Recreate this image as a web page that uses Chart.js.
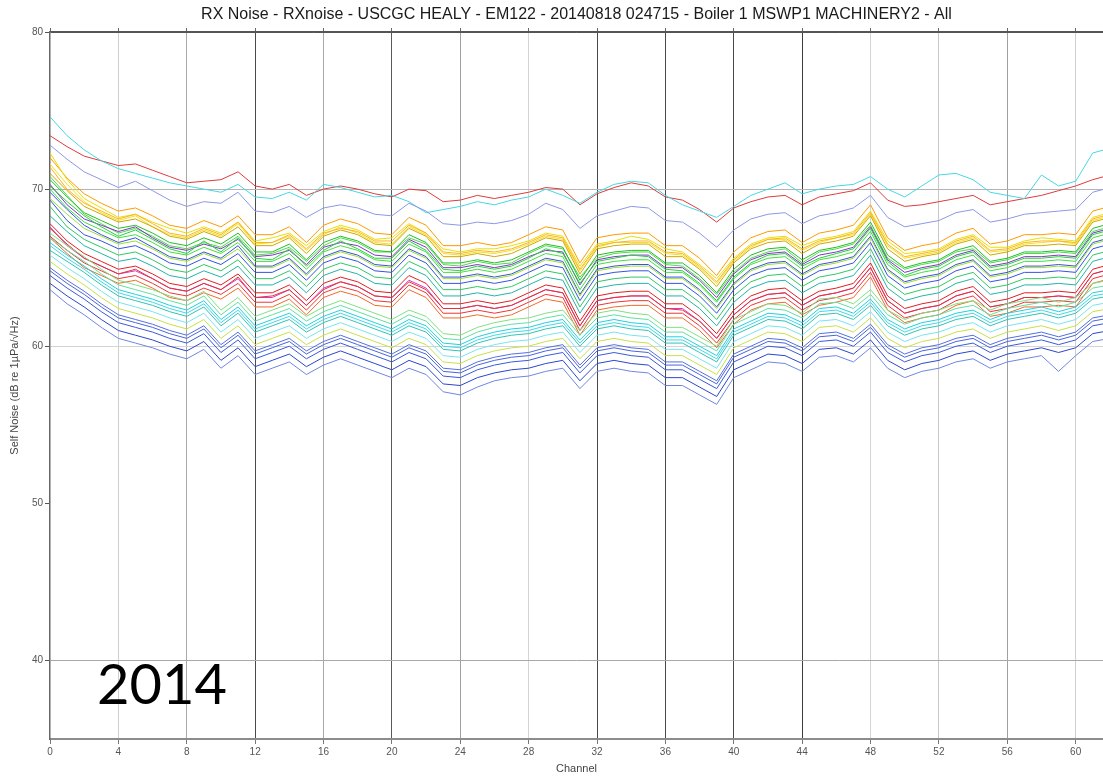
<!DOCTYPE html>
<html>
<head>
<meta charset="utf-8">
<script src="https://cdn.jsdelivr.net/npm/chart.js@4/dist/chart.umd.min.js"></script>
<style>
  html, body { margin: 0; padding: 0; background: #fff; }
  #wrap { position: relative; width: 1103px; height: 778px; }
  #yearLabel {
    position: absolute; left: 97px; top: 655px;
    font-family: Lato, "Open Sans", sans-serif; font-size: 56px; line-height: 1;
    color: #000;
  }
</style>
</head>
<body>
<div id="wrap">
  <canvas id="noiseChart"></canvas>
  <div id="yearLabel">2014</div>
</div>
<script>
// channels and axis ticks
const channels = [0,1,2,3,4,5,6,7,8,9,10,11,12,13,14,15,16,17,18,19,20,21,22,23,24,25,26,27,28,29,30,31,32,33,34,35,36,37,38,39,40,41,42,43,44,45,46,47,48,49,50,51,52,53,54,55,56,57,58,59,60,61,62];
const xTicks = [0,4,8,12,16,20,24,28,32,36,40,44,48,52,56,60];
const yTicks = [40,50,60,70,80];

// self noise per channel (dB re 1uPa/sqrt(Hz)), one array per ping trace
const redTop   = [73.4,72.7,72.1,71.8,71.5,71.6,71.2,70.8,70.4,70.5,70.6,71.1,70.2,70.0,70.3,69.6,70.0,70.2,70.0,69.7,69.5,70.0,69.9,69.2,69.3,69.6,69.4,69.6,69.8,70.1,70.0,69.0,69.7,70.1,70.4,70.2,69.5,69.3,68.7,67.9,68.8,69.2,69.5,69.6,69.0,69.5,69.7,69.9,70.4,69.3,68.9,69.0,69.2,69.4,69.6,69.0,69.2,69.4,69.6,69.9,70.2,70.6,70.9];
const cyanTop  = [74.6,73.4,72.5,71.8,71.3,71.0,70.7,70.4,70.2,70.0,69.8,70.3,69.5,69.4,69.8,69.3,70.3,70.1,69.8,69.5,69.6,69.2,68.5,68.7,68.9,69.2,69.0,69.3,69.5,70.0,69.6,69.1,69.8,70.3,70.5,70.4,69.6,69.0,68.6,68.2,68.9,69.6,70.0,70.4,69.7,70.0,70.2,70.3,70.8,70.0,69.5,70.2,70.9,71.0,70.6,69.8,69.6,69.4,70.9,70.2,70.5,72.3,72.6];
const lavTop   = [72.8,71.9,71.1,70.6,70.1,70.5,69.9,69.3,68.9,69.2,69.1,69.8,68.6,68.5,68.9,68.2,68.8,69.0,68.8,68.4,68.3,69.1,68.6,67.8,67.7,67.9,67.8,68.0,68.4,69.1,68.7,67.5,68.3,68.6,68.9,68.8,68.0,67.9,67.2,66.3,67.4,68.1,68.4,68.5,67.8,68.3,68.5,68.8,69.6,68.2,67.6,67.8,68.0,68.5,68.7,67.9,68.1,68.4,68.5,68.6,68.7,69.8,70.1];
const orange1  = [72.0,70.7,69.7,69.1,68.6,68.8,68.3,67.7,67.5,68.0,67.6,68.3,67.1,67.1,67.6,66.6,67.7,68.1,67.8,67.2,67.1,68.2,67.7,66.4,66.4,66.6,66.4,66.6,67.1,67.6,67.4,65.3,66.9,67.1,67.2,67.2,66.4,66.4,65.6,64.5,66.0,66.9,67.3,67.4,66.6,67.2,67.4,67.7,69.0,66.9,66.1,66.4,66.6,67.2,67.5,66.5,66.7,67.1,67.1,67.2,67.1,68.6,68.9];
const yellow1  = [72.3,70.6,69.4,68.8,68.2,68.4,67.9,67.5,67.2,67.6,67.2,67.9,66.7,66.9,67.2,66.4,67.3,67.7,67.4,66.8,66.9,67.8,67.2,66.2,66.0,66.2,66.2,66.4,66.7,67.2,67.0,65.1,66.5,66.7,67.0,66.8,66.2,66.0,65.2,64.3,65.6,66.5,66.9,67.0,66.4,66.8,67.0,67.3,68.6,66.7,65.9,66.0,66.2,66.8,67.1,66.3,66.3,66.7,66.9,66.8,66.7,68.2,68.5];
const yellow2  = [71.6,70.3,69.2,68.5,68.0,68.3,67.6,67.1,66.9,67.4,67.0,67.8,66.5,66.6,67.0,66.1,67.1,67.6,67.2,66.6,66.5,67.6,67.1,65.9,65.8,66.0,65.9,66.1,66.5,67.0,66.8,64.8,66.3,66.6,66.6,66.6,65.9,65.8,65.0,64.0,65.4,66.3,66.8,66.8,66.1,66.6,66.9,67.1,68.4,66.4,65.6,65.8,66.0,66.6,66.9,66.0,66.1,66.5,66.6,66.7,66.5,68.0,68.3];
const orange2  = [71.4,70.0,69.1,68.6,68.1,68.4,67.8,67.2,67.0,67.5,67.1,67.9,66.6,66.6,67.1,66.2,67.2,67.5,67.3,66.7,66.7,67.7,67.2,66.0,65.9,66.1,66.0,66.2,66.6,67.1,66.9,64.9,66.4,66.6,66.7,66.7,66.0,65.9,65.1,64.1,65.5,66.4,66.8,66.9,66.2,66.7,66.9,67.2,68.5,66.5,65.7,65.9,66.1,66.7,67.0,66.1,66.2,66.6,66.7,66.7,66.6,68.1,68.4];
const gold1    = [71.0,69.9,68.9,68.4,67.9,68.1,67.6,67.0,66.8,67.3,66.9,67.6,66.4,66.4,66.9,65.9,67.0,67.4,67.1,66.5,66.4,67.5,67.0,65.7,65.7,65.9,65.7,65.9,66.4,66.9,66.7,64.6,66.2,66.4,66.5,66.5,65.7,65.7,64.9,63.8,65.3,66.2,66.6,66.7,65.9,66.5,66.7,67.0,68.3,66.2,65.4,65.7,65.9,66.5,66.8,65.8,66.0,66.4,66.4,66.5,66.4,67.9,68.2];
const green4   = [70.8,69.6,68.4,67.8,67.2,67.5,67.0,66.4,66.2,66.6,66.3,67.0,65.8,65.9,66.3,65.4,66.4,66.9,66.6,66.0,66.0,66.9,66.5,65.2,65.1,65.4,65.2,65.3,65.9,66.4,66.2,64.4,65.6,65.9,66.0,66.0,65.2,65.1,64.3,63.3,64.7,65.6,66.0,66.2,65.3,66.0,66.2,66.5,67.7,65.6,64.9,65.2,65.4,66.0,66.2,65.3,65.5,65.9,65.9,66.0,65.9,67.3,67.6];
const green1   = [70.6,69.5,68.5,68.0,67.5,67.7,67.2,66.6,66.4,66.9,66.5,67.2,66.0,66.0,66.5,65.5,66.6,67.0,66.7,66.1,66.0,67.1,66.6,65.3,65.3,65.5,65.3,65.5,66.0,66.5,66.3,64.2,65.8,66.0,66.1,66.1,65.3,65.3,64.5,63.4,64.9,65.8,66.2,66.3,65.5,66.1,66.3,66.6,67.9,65.8,65.0,65.3,65.5,66.1,66.4,65.4,65.6,66.0,66.0,66.1,66.0,67.5,67.8];
const purple1  = [70.3,69.0,68.1,67.7,67.3,67.6,66.9,66.3,66.1,66.5,66.2,66.8,65.7,65.8,66.1,65.2,66.3,66.6,66.4,65.8,65.7,66.8,66.3,65.0,65.0,65.2,65.0,65.2,65.7,66.1,66.0,63.9,65.5,65.7,65.8,65.8,65.0,65.0,64.2,63.1,64.6,65.5,65.9,66.0,65.2,65.8,66.0,66.3,67.6,65.5,64.7,65.0,65.2,65.8,66.1,65.1,65.3,65.7,65.7,65.8,65.7,67.2,67.5];
const green5   = [70.2,69.2,68.3,67.6,67.0,67.4,66.8,66.2,65.9,66.7,66.0,66.9,65.6,65.5,66.2,65.1,66.1,66.7,66.2,65.6,65.6,66.7,66.1,64.9,64.8,65.1,64.9,65.1,65.6,66.2,65.9,64.0,65.4,65.6,65.8,65.7,64.9,64.8,64.0,62.9,64.4,65.3,65.8,65.9,65.1,65.6,65.9,66.2,67.5,65.4,64.5,64.9,65.1,65.7,66.0,65.0,65.2,65.6,65.6,65.7,65.6,67.1,67.4];
const green2   = [70.0,68.8,67.9,67.4,66.9,67.1,66.6,66.0,65.8,66.3,65.9,66.6,65.4,65.4,65.9,64.9,66.0,66.4,66.1,65.5,65.4,66.5,66.0,64.7,64.7,64.9,64.7,64.9,65.4,65.9,65.7,63.6,65.2,65.4,65.5,65.5,64.7,64.7,63.9,62.8,64.3,65.2,65.6,65.7,64.9,65.5,65.7,66.0,67.3,65.2,64.4,64.7,64.9,65.5,65.8,64.8,65.0,65.4,65.4,65.5,65.4,66.9,67.2];
const blue5    = [69.8,68.7,67.7,67.1,66.6,66.9,66.3,65.7,65.5,66.0,65.6,66.4,65.1,65.1,65.6,64.6,65.7,66.1,65.8,65.2,65.1,66.2,65.7,64.4,64.4,64.6,64.4,64.6,65.1,65.6,65.4,63.3,64.9,65.1,65.2,65.2,64.4,64.4,63.6,62.5,64.0,64.9,65.3,65.4,64.6,65.2,65.4,65.7,67.0,64.9,64.1,64.4,64.6,65.2,65.5,64.5,64.7,65.1,65.1,65.2,65.1,66.6,66.9];
const lime1    = [69.4,68.4,67.5,67.0,66.5,66.7,66.2,65.6,65.4,65.9,65.5,66.2,65.0,65.0,65.5,64.5,65.6,66.0,65.7,65.1,65.0,66.1,65.6,64.3,64.3,64.5,64.3,64.5,65.0,65.5,65.3,63.2,64.8,65.0,65.1,65.1,64.3,64.3,63.5,62.4,63.9,64.8,65.2,65.3,64.5,65.1,65.3,65.6,66.9,64.8,64.0,64.3,64.5,65.1,65.4,64.4,64.6,65.0,65.0,65.1,65.0,66.5,66.8];
const royal1   = [69.3,68.0,67.1,66.7,66.2,66.4,65.9,65.3,65.1,65.6,65.2,65.9,64.7,64.7,65.2,64.2,65.3,65.7,65.4,64.8,64.7,65.8,65.3,64.0,64.0,64.2,64.0,64.2,64.7,65.2,65.0,62.9,64.5,64.7,64.8,64.8,64.0,64.0,63.2,62.1,63.6,64.5,64.9,65.0,64.2,64.8,65.0,65.3,66.6,64.5,63.7,64.0,64.2,64.8,65.1,64.1,64.3,64.7,64.7,64.8,64.7,66.2,66.5];
const green3   = [68.9,67.6,66.8,66.3,65.8,66.0,65.5,64.9,64.7,65.2,64.8,65.5,64.3,64.3,64.8,63.8,64.9,65.3,65.0,64.4,64.3,65.4,64.9,63.6,63.6,63.8,63.6,63.8,64.3,64.8,64.6,62.5,64.1,64.3,64.4,64.4,63.6,63.6,62.8,61.7,63.2,64.1,64.5,64.6,63.8,64.4,64.6,64.9,66.2,64.1,63.3,63.6,63.8,64.4,64.7,63.7,63.9,64.3,64.3,64.4,64.3,65.8,66.1];
const teal1    = [68.3,67.3,66.4,65.9,65.4,65.6,65.1,64.5,64.3,64.8,64.4,65.1,63.9,63.9,64.4,63.4,64.5,64.9,64.6,64.0,63.9,65.0,64.5,63.2,63.2,63.4,63.2,63.4,63.9,64.4,64.2,62.1,63.7,63.9,64.0,64.0,63.2,63.2,62.4,61.3,62.8,63.7,64.1,64.2,63.4,64.0,64.2,64.5,65.8,63.7,62.9,63.2,63.4,64.0,64.3,63.3,63.5,63.9,63.9,64.0,63.9,65.4,65.7];
const red1     = [67.8,66.7,65.9,65.4,64.9,65.1,64.6,64.0,63.8,64.3,63.9,64.6,63.4,63.4,63.9,62.9,64.0,64.4,64.1,63.5,63.4,64.5,64.0,62.7,62.7,62.9,62.7,62.9,63.4,63.9,63.7,61.6,63.2,63.4,63.5,63.5,62.7,62.7,61.9,60.8,62.3,63.2,63.6,63.7,62.9,63.5,63.7,64.0,65.3,63.2,62.4,62.7,62.9,63.5,63.8,62.8,63.0,63.4,63.4,63.5,63.4,64.9,65.2];
const magenta1 = [67.6,66.4,65.6,65.1,64.6,64.8,64.3,63.7,63.5,64.0,63.6,64.3,63.1,63.1,63.6,62.6,63.7,64.1,63.8,63.2,63.1,64.2,63.7,62.4,62.4,62.6,62.4,62.6,63.1,63.6,63.4,61.3,62.9,63.1,63.2,63.2,62.4,62.4,61.6,60.5,62.0,62.9,63.3,63.4,62.6,63.2,63.4,63.7,65.0,62.9,62.1,62.4,62.6,63.2,63.5,62.5,62.7,63.1,63.1,63.2,63.1,64.6,64.9];
const red3     = [67.5,66.5,65.6,65.1,64.6,64.9,64.3,63.7,63.5,64.0,63.6,64.4,63.1,63.2,63.6,62.6,63.6,64.1,63.8,63.2,63.1,64.1,63.6,62.4,62.4,62.6,62.4,62.6,63.1,63.6,63.4,61.3,62.9,63.1,63.2,63.2,62.4,62.3,61.6,60.5,62.0,62.9,63.3,63.4,62.6,63.2,63.4,63.7,65.0,62.9,62.1,62.4,62.6,63.2,63.5,62.5,62.7,63.1,63.1,63.2,63.1,64.6,64.9];
const red2     = [67.0,66.1,65.3,64.8,64.3,64.5,64.0,63.4,63.2,63.7,63.3,64.0,62.8,62.8,63.3,62.3,63.4,63.8,63.5,62.9,62.8,63.9,63.4,62.1,62.1,62.3,62.1,62.3,62.8,63.3,63.1,61.0,62.6,62.8,62.9,62.9,62.1,62.1,61.3,60.2,61.7,62.6,63.0,63.1,62.3,62.9,63.1,63.4,64.7,62.6,61.8,62.1,62.3,62.9,63.2,62.2,62.4,62.8,62.8,62.9,62.8,64.3,64.6];
const redOr1   = [66.9,65.9,65.0,64.5,64.0,64.2,63.7,63.1,62.9,63.4,63.0,63.7,62.5,62.5,63.0,62.0,63.1,63.5,63.2,62.6,62.5,63.6,63.1,61.8,61.8,62.0,61.8,62.0,62.5,63.0,62.8,60.7,62.3,62.5,62.6,62.6,61.8,61.8,61.0,59.9,61.4,62.3,62.7,62.8,62.0,62.6,62.8,63.1,64.4,62.3,61.5,61.8,62.0,62.6,62.9,61.9,62.1,62.5,62.5,62.6,62.5,64.0,64.3];
const ltGreen1 = [67.2,66.4,65.7,64.9,64.2,63.9,63.6,63.2,62.9,63.5,62.3,63.1,61.9,62.3,62.7,61.9,62.5,62.9,62.5,62.1,61.7,62.3,61.9,60.8,60.7,61.2,61.5,61.7,61.8,62.1,62.3,61.0,62.1,62.3,62.1,62.0,61.2,61.2,60.6,60.0,61.7,62.2,62.7,62.6,62.1,63.0,63.1,62.7,63.6,62.3,61.7,62.1,62.3,62.7,62.9,62.3,62.7,62.9,63.1,62.8,63.1,64.0,64.2];
const green6   = [66.9,66.1,65.4,64.6,63.9,63.6,63.3,62.9,62.6,63.2,62.0,62.8,61.6,62.0,62.4,61.6,62.2,62.6,62.2,61.8,61.4,62.0,61.6,60.5,60.4,60.9,61.2,61.4,61.5,61.8,62.0,60.7,61.8,62.0,61.8,61.7,60.9,60.9,60.3,59.7,61.4,61.9,62.4,62.3,61.8,62.7,62.8,62.4,63.3,62.0,61.4,61.8,62.0,62.4,62.6,62.0,62.4,62.6,62.8,62.5,62.8,63.7,63.9];
const cyan1    = [66.6,65.8,65.1,64.3,63.6,63.3,63.0,62.6,62.3,62.9,61.7,62.5,61.3,61.7,62.1,61.3,61.9,62.3,61.9,61.5,61.1,61.7,61.3,60.2,60.1,60.6,60.9,61.1,61.2,61.5,61.7,60.4,61.5,61.7,61.5,61.4,60.6,60.6,60.0,59.4,61.1,61.6,62.1,62.0,61.5,62.4,62.5,62.1,63.0,61.7,61.1,61.5,61.7,62.1,62.3,61.7,62.1,62.3,62.5,62.2,62.5,63.4,63.6];
const cyan2    = [66.4,65.6,64.9,64.1,63.4,63.1,62.8,62.4,62.1,62.7,61.5,62.3,61.1,61.5,61.9,61.1,61.7,62.1,61.7,61.3,60.9,61.5,61.1,60.0,59.9,60.4,60.7,60.9,61.0,61.3,61.5,60.2,61.3,61.5,61.3,61.2,60.4,60.4,59.8,59.2,60.9,61.4,61.9,61.8,61.3,62.2,62.3,61.9,62.8,61.5,60.9,61.3,61.5,61.9,62.1,61.5,61.9,62.1,62.3,62.0,62.3,63.2,63.4];
const teal2    = [66.1,65.4,64.7,63.9,63.2,62.9,62.6,62.2,61.9,62.5,61.3,62.1,60.9,61.3,61.7,60.9,61.5,61.9,61.5,61.1,60.7,61.3,60.9,59.8,59.7,60.2,60.5,60.7,60.8,61.1,61.3,60.0,61.1,61.3,61.1,61.0,60.2,60.2,59.6,59.0,60.7,61.2,61.7,61.6,61.1,62.0,62.1,61.7,62.6,61.3,60.7,61.1,61.3,61.7,61.9,61.3,61.7,61.9,62.1,61.8,62.1,63.0,63.2];
const ltCyan1  = [65.8,65.0,64.3,63.5,62.8,62.5,62.2,61.8,61.5,62.1,60.9,61.7,60.5,60.9,61.3,60.5,61.1,61.5,61.1,60.7,60.3,60.9,60.5,59.4,59.3,59.8,60.1,60.3,60.4,60.7,60.9,59.6,60.7,60.9,60.7,60.6,59.8,59.8,59.2,58.6,60.3,60.8,61.3,61.2,60.7,61.6,61.7,61.3,62.2,60.9,60.3,60.7,60.9,61.3,61.5,60.9,61.3,61.5,61.7,61.4,61.7,62.6,62.8];
const yelGrn1  = [65.4,64.6,63.9,63.1,62.4,62.1,61.8,61.4,61.1,61.7,60.5,61.3,60.1,60.5,60.9,60.1,60.7,61.1,60.7,60.3,59.9,60.5,60.1,59.0,58.9,59.4,59.7,59.9,60.0,60.3,60.5,59.2,60.3,60.5,60.3,60.2,59.4,59.4,58.8,58.2,59.9,60.4,60.9,60.8,60.3,61.2,61.3,60.9,61.8,60.5,59.9,60.3,60.5,60.9,61.1,60.5,60.9,61.1,61.3,61.0,61.3,62.2,62.4];
const blue1    = [65.0,64.2,63.5,62.7,62.0,61.7,61.4,61.0,60.7,61.3,60.1,60.9,59.7,60.1,60.5,59.7,60.3,60.7,60.3,59.9,59.5,60.1,59.7,58.6,58.5,59.0,59.3,59.5,59.6,59.9,60.1,58.8,59.9,60.1,59.9,59.8,59.0,59.0,58.4,57.8,59.5,60.0,60.5,60.4,59.9,60.8,60.9,60.5,61.4,60.1,59.5,59.9,60.1,60.5,60.7,60.1,60.5,60.7,60.9,60.6,60.9,61.8,62.0];
const blue6    = [64.8,64.0,63.3,62.5,61.8,61.5,61.2,60.8,60.5,61.1,59.9,60.7,59.5,59.9,60.3,59.5,60.1,60.5,60.1,59.7,59.3,59.9,59.5,58.4,58.3,58.8,59.1,59.3,59.4,59.7,59.9,58.6,59.7,59.9,59.7,59.6,58.8,58.8,58.2,57.6,59.3,59.8,60.3,60.2,59.7,60.6,60.7,60.3,61.2,59.9,59.3,59.7,59.9,60.3,60.5,59.9,60.3,60.5,60.7,60.4,60.7,61.6,61.8];
const blue2    = [64.5,63.7,63.0,62.2,61.5,61.2,60.9,60.5,60.2,60.8,59.6,60.4,59.2,59.6,60.0,59.2,59.8,60.2,59.8,59.4,59.0,59.6,59.2,58.1,58.0,58.5,58.8,59.0,59.1,59.4,59.6,58.3,59.4,59.6,59.4,59.3,58.5,58.5,57.9,57.3,59.0,59.5,60.0,59.9,59.4,60.3,60.4,60.0,60.9,59.6,59.0,59.4,59.6,60.0,60.2,59.6,60.0,60.2,60.4,60.1,60.4,61.3,61.5];
const blue3    = [64.0,63.2,62.5,61.7,61.0,60.7,60.4,60.0,59.7,60.3,59.1,59.9,58.7,59.1,59.5,58.7,59.3,59.7,59.3,58.9,58.5,59.1,58.7,57.6,57.5,58.0,58.3,58.5,58.6,58.9,59.1,57.8,58.9,59.1,58.9,58.8,58.0,58.0,57.4,56.8,58.5,59.0,59.5,59.4,58.9,59.8,59.9,59.5,60.4,59.1,58.5,58.9,59.1,59.5,59.7,59.1,59.5,59.7,59.9,59.6,59.9,60.8,61.0];
const blue4    = [63.6,62.7,62.0,61.2,60.5,60.2,59.9,59.5,59.2,59.8,58.6,59.4,58.2,58.6,59.0,58.2,58.8,59.2,58.8,58.4,58.0,58.6,58.2,57.1,56.9,57.4,57.8,58.0,58.1,58.4,58.6,57.3,58.4,58.6,58.4,58.3,57.5,57.5,56.9,56.3,58.0,58.5,59.0,58.9,58.4,59.3,59.4,59.0,59.9,58.6,58.0,58.4,58.6,59.0,59.2,58.6,59.0,59.2,59.4,58.4,59.4,60.3,60.5];

// trace -> line colour (drawn bottom band first)
const traces = [
  [blue4, "#6f86e0"], [blue3, "#2a46cc"], [blue2, "#3a5ad8"], [blue6, "#4a64dc"], [blue1, "#5470e0"],
  [yelGrn1, "#c8e048"], [ltCyan1, "#78e4f0"], [teal2, "#30c4b4"], [cyan2, "#40d8e8"], [cyan1, "#20d0e0"],
  [green6, "#60e0a0"], [ltGreen1, "#80e080"], [redOr1, "#f06a2a"], [red2, "#f03434"], [red3, "#e83030"],
  [magenta1, "#d038d0"], [red1, "#e02020"], [teal1, "#24b4a4"], [green3, "#30c860"], [royal1, "#3454e0"],
  [lime1, "#98e030"], [blue5, "#3a50e0"], [green2, "#40e040"], [green5, "#2ad040"], [purple1, "#8434c4"],
  [green1, "#20c020"], [green4, "#50d850"], [gold1, "#d0a800"], [orange2, "#ffb020"], [yellow2, "#f0e020"],
  [yellow1, "#e8e000"], [orange1, "#ff9a00"],
  [lavTop, "#8c98e4"], [cyanTop, "#44d8e4"], [redTop, "#e03a3a"]
];

const xGridColor = {0:"rgba(0,0,0,0)",4:"#cfcfcf",8:"#a8a8a8",12:"#4a4a4a",16:"#a8a8a8",20:"#5a5a5a",24:"#a0a0a0",28:"#d4d4d4",32:"#4a4a4a",36:"#4a4a4a",40:"#4a4a4a",44:"#3c3c3c",48:"#d4d4d4",52:"#c8c8c8",56:"#a0a0a0",60:"#d0d0d0"};
const yGridColor = {40:"#a8a8a8",50:"rgba(0,0,0,0)",60:"#d4d4d4",70:"#b4b4b4",80:"#555555"};

const ctx = document.getElementById("noiseChart").getContext("2d");

new Chart(ctx, {
    type: "line",
    data: {
        datasets: traces.map(function (t) {
            return {
                data: channels.map(function (c, i) { return { x: c, y: t[0][i] }; }),
                borderColor: t[1],
                borderWidth: 1,
                pointRadius: 0,
                tension: 0,
                fill: false,
            };
        }),
    },
    options: {
        responsive: true,
        maintainAspectRatio: false,
        animation: false,
        layout: { padding: 0 },
        plugins: {
            legend: { display: false },
            tooltip: { enabled: false },
            title: {
                display: true,
                fullSize: false,
                text: "RX Noise - RXnoise - USCGC HEALY - EM122 - 20140818 024715 - Boiler 1 MSWP1 MACHINERY2 - All",
                font: { family: "'Liberation Sans', Arial, sans-serif", size: 16, weight: "normal" },
                color: "#1a1a1a",
                padding: { top: 5, bottom: 7.8 },
            },
        },
        scales: {
            x: {
                type: "linear",
                min: 0,
                max: 61.6,
                afterBuildTicks: function (s) { s.ticks = xTicks.map(function (v) { return { value: v }; }); },
                afterFit: function (s) { s.height = 39; },
                ticks: {
                    autoSkip: false,
                    maxRotation: 0,
                    padding: 2,
                    color: "#555",
                    font: { family: "'Liberation Sans', Arial, sans-serif", size: 10 },
                },
                grid: {
                    color: function (c) { return xGridColor[c.tick.value] || "#ccc"; },
                    tickColor: "#777",
                    tickLength: 5,
                    lineWidth: 1,
                },
                border: { color: "#8c8c8c", width: 2 },
                title: {
                    display: true,
                    text: "Channel",
                    color: "#444",
                    font: { family: "'Liberation Sans', Arial, sans-serif", size: 11 },
                    padding: { top: 0, bottom: 2 },
                },
            },
            xTop: {
                type: "linear",
                position: "top",
                min: 0,
                max: 61.6,
                afterBuildTicks: function (s) { s.ticks = xTicks.map(function (v) { return { value: v }; }); },
                afterFit: function (s) { s.height = 0; },
                ticks: { display: false },
                grid: { drawOnChartArea: false, tickLength: 4, tickColor: "#666" },
                border: { color: "#555", width: 1.5 },
            },
            y: {
                min: 35,
                max: 80,
                afterBuildTicks: function (s) { s.ticks = yTicks.map(function (v) { return { value: v }; }); },
                afterFit: function (s) { s.width = 50; },
                ticks: {
                    padding: 2,
                    color: "#555",
                    font: { family: "'Liberation Sans', Arial, sans-serif", size: 10 },
                },
                grid: {
                    color: function (c) { return yGridColor[c.tick.value] || "#ccc"; },
                    tickColor: "#555",
                    tickLength: 5,
                },
                border: { color: "#666", width: 1.5 },
                title: {
                    display: true,
                    text: "Self Noise (dB re 1µPa/√Hz)",
                    color: "#444",
                    font: { family: "'Liberation Sans', Arial, sans-serif", size: 11 },
                    padding: { top: 8, bottom: 8 },
                },
            },
        },
    },
});
</script>
</body>
</html>
